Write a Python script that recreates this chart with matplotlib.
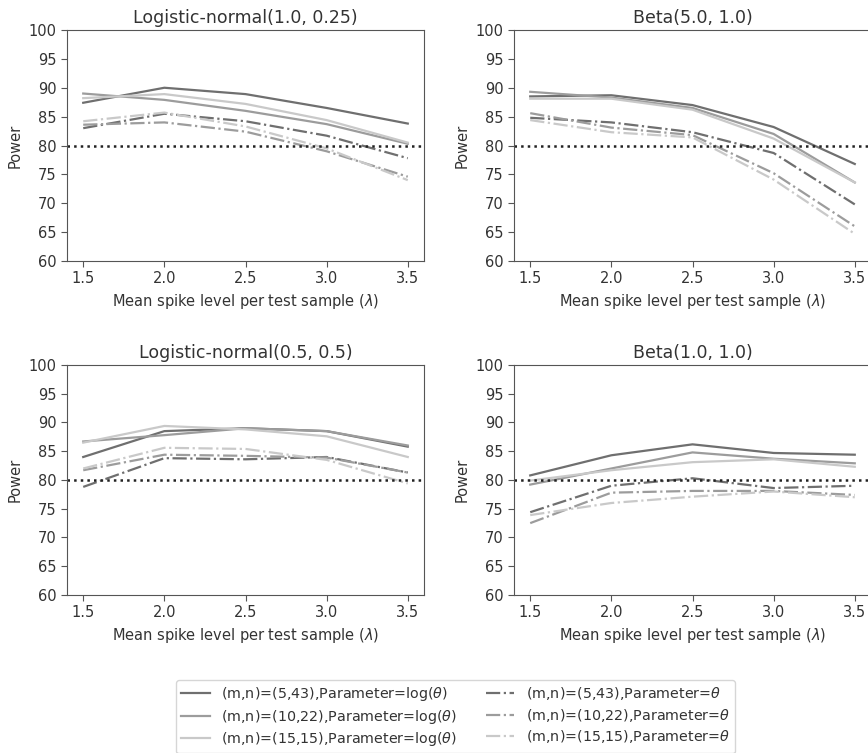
import matplotlib
matplotlib.use("Agg")
import matplotlib.pyplot as plt

# mean spike level per test sample
lam = [1.5, 2.0, 2.5, 3.0, 3.5]

titles = ["Logistic-normal(1.0, 0.25)", "Beta(5.0, 1.0)",
          "Logistic-normal(0.5, 0.5)", "Beta(1.0, 1.0)"]

labels = [r"(m,n)=(5,43),Parameter=log($\theta$)",
          r"(m,n)=(10,22),Parameter=log($\theta$)",
          r"(m,n)=(15,15),Parameter=log($\theta$)",
          r"(m,n)=(5,43),Parameter=$\theta$",
          r"(m,n)=(10,22),Parameter=$\theta$",
          r"(m,n)=(15,15),Parameter=$\theta$"]

# power, one list per series: log(theta) 5/43, 10/22, 15/15, then theta 5/43, 10/22, 15/15
ln_1_025 = [
    [87.4, 90.0, 88.9, 86.5, 83.8],
    [89.0, 87.9, 86.0, 83.7, 80.3],
    [88.2, 88.9, 87.2, 84.4, 80.5],
    [83.0, 85.5, 84.2, 81.7, 77.8],
    [83.6, 84.0, 82.4, 79.0, 74.6],
    [84.2, 85.7, 83.3, 79.5, 74.0],
]
beta_5_1 = [
    [88.5, 88.7, 87.0, 83.2, 76.8],
    [89.3, 88.3, 86.5, 82.0, 73.6],
    [88.1, 88.1, 86.2, 81.2, 73.6],
    [84.8, 84.0, 82.3, 78.7, 69.8],
    [85.6, 83.1, 81.8, 75.2, 66.0],
    [84.4, 82.3, 81.4, 74.1, 64.7],
]
ln_05_05 = [
    [84.0, 88.5, 89.0, 88.5, 85.8],
    [86.7, 87.8, 89.0, 88.5, 86.0],
    [86.5, 89.4, 88.8, 87.6, 84.0],
    [78.8, 83.8, 83.6, 84.0, 81.3],
    [81.7, 84.4, 84.2, 83.9, 81.3],
    [82.0, 85.6, 85.4, 83.5, 79.4],
]
beta_1_1 = [
    [80.8, 84.3, 86.2, 84.7, 84.4],
    [79.2, 82.0, 84.8, 83.7, 82.9],
    [79.9, 81.7, 83.1, 83.6, 82.3],
    [74.4, 79.0, 80.3, 78.6, 79.0],
    [72.5, 77.8, 78.1, 78.1, 77.4],
    [73.9, 76.0, 77.1, 78.0, 77.0],
]
panels = [ln_1_025, beta_5_1, ln_05_05, beta_1_1]

colors = ["#6f6f6f", "#9c9c9c", "#c9c9c9"] * 2
styles = ["-"] * 3 + ["-."] * 3

textc = "#333333"
plt.rcParams["text.color"] = textc
plt.rcParams["axes.labelcolor"] = textc
plt.rcParams["xtick.color"] = "#555555"
plt.rcParams["ytick.color"] = "#555555"
plt.rcParams["xtick.labelcolor"] = textc
plt.rcParams["ytick.labelcolor"] = textc

fig = plt.figure(figsize=(8.68, 7.53), dpi=100)

# axes boxes in pixels (left, top, right, bottom); right column runs off the page
boxes = [(67, 30, 424, 261), (514, 30, 871, 261),
         (67, 365, 424, 595), (514, 365, 871, 595)]
W, H = 868.0, 753.0

handles = []
for i, (box, title, series) in enumerate(zip(boxes, titles, panels)):
    l, t, r, b = box
    ax = fig.add_axes([l / W, 1 - b / H, (r - l) / W, (b - t) / H])
    hs = []
    for vals, c, ls in zip(series, colors, styles):
        h, = ax.plot(lam, vals, color=c, linestyle=ls, linewidth=1.6)
        hs.append(h)
    if i == 0:
        handles = hs
    ax.axhline(80, color="#222222", linestyle=":", linewidth=1.8)
    ax.set_ylim(60, 100)
    ax.set_xlim(1.4, 3.6)
    ax.set_xticks(lam)
    ax.set_yticks(range(60, 101, 5))
    ax.tick_params(labelsize=10.5, length=4)
    for s in ax.spines.values():
        s.set_color("#555555")
    ax.set_title(title, fontsize=12.5, pad=5)
    ax.set_xlabel(r"Mean spike level per test sample ($\lambda$)", fontsize=10.5)
    ax.set_ylabel("Power", fontsize=10.5)

fig.legend(handles, labels, loc="upper center", ncol=2,
           bbox_to_anchor=(455.5 / W, 1 - 680 / H), borderaxespad=0,
           fontsize=10.3, labelspacing=0.33, borderpad=0.35,
           frameon=True, edgecolor="#cccccc", fancybox=True,
           columnspacing=2.0)

fig.savefig("out.png", dpi=100)
